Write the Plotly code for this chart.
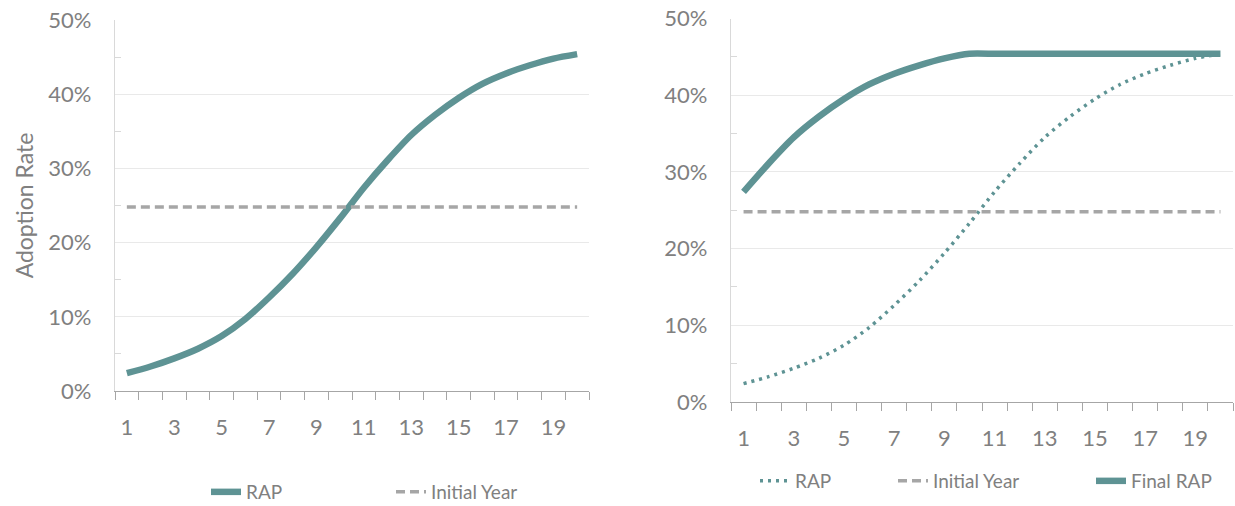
import plotly.graph_objects as go

years = list(range(1, 21))
rap = [0.024, 0.033, 0.044, 0.057, 0.074, 0.097, 0.126, 0.158, 0.194, 0.233,
       0.274, 0.311, 0.345, 0.372, 0.395, 0.414, 0.428, 0.439, 0.448, 0.454]
initial_year = [0.248] * 20
final_rap = [0.274, 0.311, 0.345, 0.372, 0.395, 0.414, 0.428, 0.439, 0.448, 0.454,
             0.454, 0.454, 0.454, 0.454, 0.454, 0.454, 0.454, 0.454, 0.454, 0.454]
x_ticks = [1, 3, 5, 7, 9, 11, 13, 15, 17, 19]
y_ticks = [0, 0.1, 0.2, 0.3, 0.4, 0.5]

TEAL = "#5E9394"
GRAY_DASH = "#A6A6A6"
TXT = "#808080"
FONT = "Lato"

fig = go.Figure()

# Left chart
fig.add_trace(go.Scatter(x=years, y=rap, mode="lines", name="RAP",
                         line=dict(color=TEAL, width=6.5, shape="spline", smoothing=0.8),
                         xaxis="x", yaxis="y", legend="legend"))
fig.add_trace(go.Scatter(x=years, y=initial_year, mode="lines", name="Initial Year",
                         line=dict(color=GRAY_DASH, width=3.5, dash="9px,5px"),
                         xaxis="x", yaxis="y", legend="legend2"))

# Right chart
fig.add_trace(go.Scatter(x=years, y=rap, mode="lines", name="RAP",
                         line=dict(color=TEAL, width=3.5, dash="3px,5px",
                                   shape="spline", smoothing=0.8),
                         xaxis="x2", yaxis="y2", legend="legend3"))
fig.add_trace(go.Scatter(x=years, y=initial_year, mode="lines", name="Initial Year",
                         line=dict(color=GRAY_DASH, width=3.5, dash="9px,5px"),
                         xaxis="x2", yaxis="y2", legend="legend4"))
fig.add_trace(go.Scatter(x=years, y=final_rap, mode="lines", name="Final RAP",
                         line=dict(color=TEAL, width=6.5, shape="spline", smoothing=0.6),
                         xaxis="x2", yaxis="y2", legend="legend5"))

W, H = 1235, 506


def xax(domain, anchor):
    return dict(domain=domain, anchor=anchor, range=[0.5, 20.5],
                tickmode="array", tickvals=x_ticks, ticktext=[str(v) for v in x_ticks],
                ticks="outside", ticklen=8, tickcolor="rgba(0,0,0,0)",
                ticklabelstandoff=8,
                showline=True, linecolor="#A6A6A6", linewidth=1.3,
                showgrid=False, zeroline=False,
                tickfont=dict(family=FONT, size=22, color=TXT),
                minor=dict(tickmode="array", tickvals=[v + 0.5 for v in range(0, 21)],
                           ticks="outside", ticklen=8, tickcolor="#A6A6A6", tickwidth=1.3,
                           showgrid=False),
                automargin=False, fixedrange=True)


def yax(domain, anchor, title=None):
    d = dict(domain=domain, anchor=anchor, range=[0, 0.5],
             tickmode="array", tickvals=y_ticks, tickformat=".0%",
             ticks="", ticklabelstandoff=18,
             showline=True, linecolor="#D9D9D9", linewidth=1.3,
             showgrid=True, gridcolor="#E9E9E9", gridwidth=1.3, zeroline=False,
             tickfont=dict(family=FONT, size=22, color=TXT),
             minor=dict(tickmode="array", tickvals=[0.05, 0.15, 0.25, 0.35, 0.45],
                        ticks="inside", ticklen=6, tickcolor="#D9D9D9", tickwidth=1.3,
                        showgrid=False),
             automargin=False, fixedrange=True)
    if title:
        d["title"] = dict(text=title, font=dict(family=FONT, size=23, color=TXT), standoff=8)
    return d


fig.update_layout(
    width=W, height=H,
    margin=dict(l=0, r=0, t=0, b=0, autoexpand=False),
    paper_bgcolor="white", plot_bgcolor="white",
    showlegend=True,
    xaxis=xax([115 / W, 589 / W], "y"),
    yaxis=yax([(H - 391) / H, (H - 20) / H], "x", "Adoption Rate"),
    xaxis2=xax([731 / W, 1233 / W], "y2"),
    yaxis2=yax([(H - 402) / H, (H - 18.5) / H], "x2"),
)

leg_font = dict(family=FONT, size=19, color=TXT)
legend_specs = [("legend", 248, 492), ("legend2", 433, 492),
                ("legend3", 797, 481), ("legend4", 935, 481), ("legend5", 1133, 481)]
for name, tx, ty in legend_specs:
    fig.update_layout(**{name: dict(x=(tx - 42) / W, y=(H - ty) / H, xanchor="left",
                                    yanchor="middle", orientation="h",
                                    font=leg_font, bgcolor="rgba(0,0,0,0)",
                                    borderwidth=0, tracegroupgap=0, visible=True)})

fig.write_html("out.html")
